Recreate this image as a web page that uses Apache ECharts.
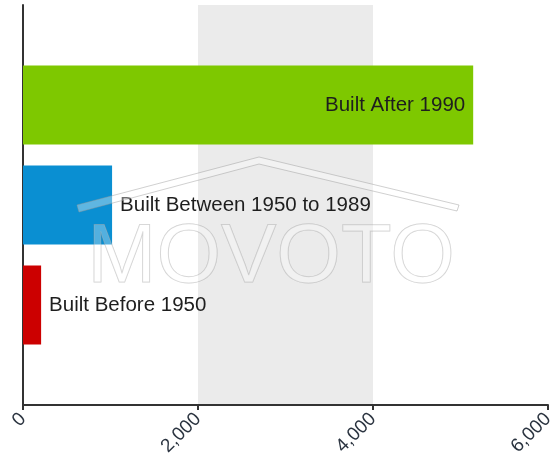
<!DOCTYPE html>
<html>
<head>
<meta charset="utf-8">
<script src="https://cdn.jsdelivr.net/npm/echarts@6/dist/echarts.min.js"></script>
<style>
html,body{margin:0;padding:0;background:#fff;}
#chart{width:560px;height:465px;}
</style>
</head>
<body>
<div id="chart"></div>
<script>
// Data
var categories = ['Built After 1990', 'Built Between 1950 to 1989', 'Built Before 1950'];
var values = [5145, 1018, 207];
var barColors = ['#7ec800', '#0a8fd2', '#cc0000'];
var labelPositions = ['insideRight', 'right', 'right'];
var xTicks = [0, 2000, 4000, 6000];

// padded category axis (empty slot at top and bottom)
var yCats = [''].concat(categories).concat(['']);
var barData = [null];
for (var i = 0; i < categories.length; i++) {
  barData.push({
    value: values[i],
    itemStyle: { color: barColors[i] },
    label: { position: labelPositions[i] }
  });
}
barData.push(null);

var chart = echarts.init(document.getElementById('chart'), null, { renderer: 'canvas' });
var FONT = 'Liberation Sans';

var option = {
  animation: false,
  backgroundColor: '#ffffff',
  grid: { left: 23, right: 12, top: 5, bottom: 60, containLabel: false },
  xAxis: {
    type: 'value',
    min: xTicks[0],
    max: xTicks[xTicks.length - 1],
    interval: xTicks[1] - xTicks[0],
    axisLine: { show: true, lineStyle: { color: '#333', width: 2 } },
    axisTick: { show: true, length: 5, lineStyle: { color: '#333', width: 2 } },
    axisLabel: {
      rotate: 45,
      color: '#2b3440',
      fontFamily: FONT,
      fontSize: 19,
      margin: 11,
      formatter: function (v) { return v.toLocaleString('en-US'); }
    },
    splitLine: { show: false },
    splitArea: { show: true, areaStyle: { color: ['rgba(255,255,255,0)', '#ebebeb', 'rgba(255,255,255,0)'] } }
  },
  yAxis: {
    type: 'category',
    data: yCats,
    inverse: true,
    boundaryGap: false,
    axisLine: { show: true, lineStyle: { color: '#333', width: 2 } },
    axisTick: { show: false },
    axisLabel: { show: false },
    splitLine: { show: false }
  },
  series: [{
    type: 'bar',
    data: barData,
    barWidth: 79,
    z: 3,
    label: {
      show: true,
      distance: 8,
      color: '#1e1e1e',
      fontFamily: FONT,
      fontSize: 20.5,
      formatter: function (p) { return p.name; }
    }
  }],
  graphic: [
    {
      type: 'polygon',
      z: 100,
      silent: true,
      shape: { points: [[77, 205], [259, 157], [459, 205], [457, 211], [259, 164], [79, 212]] },
      style: { fill: 'rgba(255,255,255,0.35)', stroke: 'rgba(150,150,150,0.45)', lineWidth: 1 }
    },
    {
      type: 'text',
      z: 100,
      silent: true,
      x: 271,
      y: 259,
      style: {
        text: 'MOVOTO',
        font: '83px "Liberation Sans"',
        textAlign: 'center',
        textVerticalAlign: 'middle',
        fill: 'rgba(255,255,255,0.3)',
        stroke: 'rgba(150,150,150,0.45)',
        lineWidth: 1
      }
    }
  ]
};
chart.setOption(option);
</script>
</body>
</html>
